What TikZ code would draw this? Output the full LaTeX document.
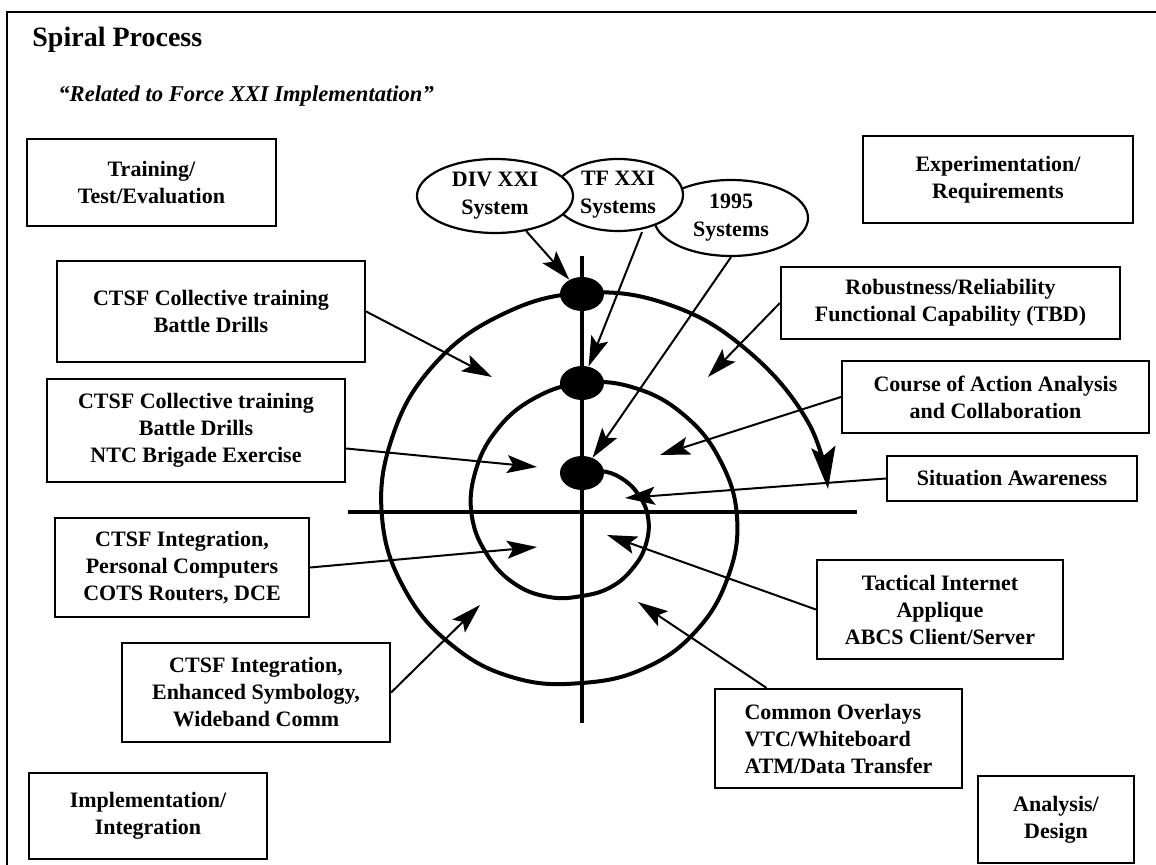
\documentclass[tikz,border=0pt]{standalone}
\usepackage{fontspec}
\setmainfont{Liberation Serif}
\usetikzlibrary{shapes.geometric,arrows.meta}

\begin{document}
\begin{tikzpicture}[x=0.5pt,y=-0.5pt,
    box/.style={draw,line width=1.1pt,inner sep=0pt,align=center,
        font=\fontsize{11}{13.5}\selectfont\bfseries},
    oval/.style={ellipse,draw,line width=1.1pt,fill=white,inner sep=0pt,align=center,
        font=\fontsize{11}{14}\selectfont\bfseries},
    blob/.style={ellipse,fill=black,minimum width=22pt,minimum height=17pt,inner sep=0pt},
    pointer/.style={line width=1pt,-{Stealth[length=15pt,width=9pt,inset=3pt]}},
    spiral/.style={line width=2pt},
    axisline/.style={line width=1.7pt},
    edgeline/.style={line width=1pt}]
    \useasboundingbox (0,0) rectangle (1156,865);
    \draw[edgeline] (7,865) -- (7,12) -- (1156,12);

    \node[anchor=base west,inner sep=0pt,font=\fontsize{14}{17}\selectfont\bfseries] (title) at (32,47) {Spiral Process};
    \node[anchor=base west,inner sep=0pt,font=\fontsize{11.3}{14}\selectfont\bfseries\itshape] (subtitle) at (58,102) {“Related to Force XXI Implementation”};

    \draw[axisline] (348,512) -- (857,512);
    \draw[axisline] (582,256) -- (582,723);
    \draw[spiral,-{Stealth[length=21pt,width=12pt,inset=4pt]}] plot[smooth,tension=0.7] coordinates {
        (582,473) (601,471) (621,478) (638,494) (648,517) (646,544) (633,568) (611,587)
        (582,596) (549,597) (515,584) (488,556) (472,517) (475,473) (496,431) (533,399)
        (582,383) (635,388) (684,415) (720,460) (737,517) (728,577) (696,631) (645,668)
        (582,683) (515,678) (453,646) (405,590) (382,517) (392,438) (432,367) (499,316)
        (582,293) (670,305) (748,351) (808,422) (828,489)};

    \node[blob] (dotA) at (582,294) {};
    \node[blob] (dotB) at (582,383) {};
    \node[blob] (dotC) at (582,473) {};

    \node[oval,minimum width=77pt,minimum height=38pt] (sys95) at (731,218) {1995\\Systems};
    \node[oval,minimum width=65pt,minimum height=36pt] (systf) at (618,195) {TF XXI\\Systems};
    \node[oval,minimum width=78pt,minimum height=37pt] (sysdiv) at (495,196) {DIV XXI\\System};

    \node[box,minimum width=124.5pt,minimum height=43.5pt] (train) at (151.5,182.5) {Training/\\Test/Evaluation};
    \node[box,minimum width=135pt,minimum height=43.5pt] (exper) at (998,179.5) {Experimentation/\\Requirements};
    \node[box,minimum width=154pt,minimum height=50.5pt] (drillA) at (211,311.5) {CTSF Collective training\\Battle Drills};
    \node[box,minimum width=149pt,minimum height=51.5pt] (drillB) at (196,430.5) {CTSF Collective training\\Battle Drills\\NTC Brigade Exercise};
    \node[box,minimum width=127pt,minimum height=49.5pt] (integA) at (182,567.5) {CTSF Integration,\\Personal Computers\\COTS Routers, DCE};
    \node[box,minimum width=134pt,minimum height=49.5pt] (integB) at (256,692.5) {CTSF Integration,\\Enhanced Symbology,\\Wideband Comm};
    \node[box,minimum width=119pt,minimum height=43pt] (implem) at (148,816) {Implementation/\\Integration};
    \node[box,minimum width=169.5pt,minimum height=36pt] (robust) at (950.5,303) {Robustness/Reliability\\Functional Capability (TBD)};
    \node[box,minimum width=153.5pt,minimum height=36pt] (action) at (995.5,397) {Course of Action Analysis\\and Collaboration};
    \node[box,minimum width=125pt,minimum height=22.5pt] (aware) at (1012,478.5) {Situation Awareness};
    \node[box,minimum width=123pt,minimum height=49.5pt] (tactic) at (940,609.5) {Tactical Internet\\Applique\\ABCS Client/Server};
    \node[box,minimum width=123.5pt,minimum height=49.5pt,align=left] (overlay) at (838.5,738.5) {Common Overlays\\VTC/Whiteboard\\ATM/Data Transfer};
    \node[box,minimum width=78pt,minimum height=43.5pt] (design) at (1056,819.5) {Analysis/\\Design};

    \coordinate (t1) at (492,377);
    \coordinate (t2) at (537,467);
    \coordinate (t3) at (537,547);
    \coordinate (t4) at (480,605);
    \coordinate (t5) at (708,377);
    \coordinate (t6) at (660,455);
    \coordinate (t7) at (625,498);
    \coordinate (t8) at (607,535);
    \coordinate (t9) at (638,602);

    \draw[pointer] (drillA.east) -- (t1);
    \draw[pointer] ([yshift=-9pt]drillB.east) -- (t2);
    \draw[pointer] (integA.east) -- (t3);
    \draw[pointer] (integB.east) -- (t4);
    \draw[pointer] (robust.west) -- (t5);
    \draw[pointer] (action.west) -- (t6);
    \draw[pointer] (aware.west) -- (t7);
    \draw[pointer] (tactic.west) -- (t8);
    \draw[pointer] ([xshift=-36pt]overlay.north) -- (t9);
    \draw[pointer] (sysdiv) -- (dotA);
    \draw[pointer] ([xshift=12pt]systf.south) -- (dotB);
    \draw[pointer] (sys95.south) -- (dotC);
\end{tikzpicture}
\end{document}
